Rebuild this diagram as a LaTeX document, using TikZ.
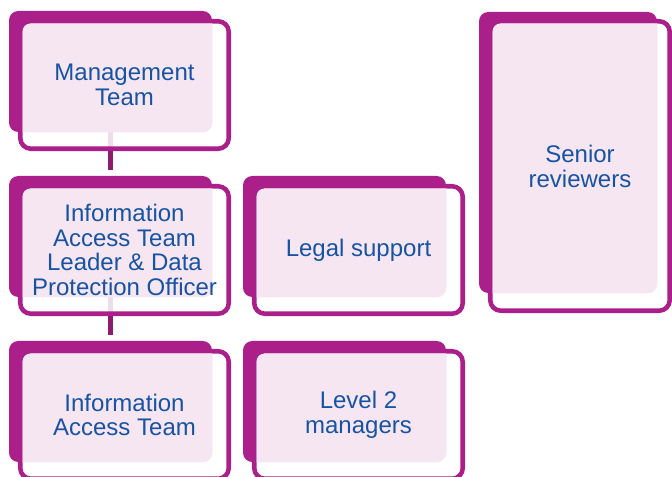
\documentclass[tikz,border=0pt]{standalone}
\usepackage{fontspec}
\setmainfont{Liberation Sans}
\usetikzlibrary{backgrounds}

\definecolor{cardmagenta}{HTML}{AB1F8B}
\definecolor{cardpink}{HTML}{F5E6F1}
\definecolor{linkmagenta}{HTML}{8E1B70}
\definecolor{textblue}{HTML}{1753A2}

\begin{document}
\begin{tikzpicture}[x=0.75pt, y=-0.75pt,
	back/.style={fill=cardmagenta, rounded corners=7pt, inner sep=0pt},
	front/.style={draw=cardmagenta, line width=3.4pt, fill=white, fill opacity=0.85, draw opacity=1, rounded corners=8pt},
	cardlabel/.style={align=center, text=textblue, inner sep=0pt, font=\fontsize{18pt}{18.6pt}\selectfont},
	link/.style={draw=linkmagenta, line width=3.75pt}]

	\useasboundingbox (0,0) rectangle (672,477);

	%management team
	\begin{scope}[shift={(9,11)}]
		\node[back, minimum width=152.25pt, minimum height=90.75pt] (mgmtback) at (101.5,60.5) {};
		\draw[front] (11.25,10.25) rectangle (219.75,137.75);
		\begin{scope}
			\clip[rounded corners=6pt] (13.5,12.5) rectangle (217.5,135.5);
			\fill[cardpink, rounded corners=7pt] (mgmtback.north west) rectangle (mgmtback.south east);
		\end{scope}
		\node[cardlabel] (mgmt) at (115.5,74) {Management\\Team};
	\end{scope}

	%team leader
	\begin{scope}[shift={(9,176)}]
		\node[back, minimum width=152.25pt, minimum height=90.75pt] (leaderback) at (101.5,60.5) {};
		\draw[front] (11.25,10.25) rectangle (219.75,137.75);
		\begin{scope}
			\clip[rounded corners=6pt] (13.5,12.5) rectangle (217.5,135.5);
			\fill[cardpink, rounded corners=7pt] (leaderback.north west) rectangle (leaderback.south east);
		\end{scope}
		\node[cardlabel] (leader) at (115.5,74) {Information\\Access Team\\Leader \& Data\\Protection Officer};
	\end{scope}

	%access team
	\begin{scope}[shift={(9,341)}]
		\node[back, minimum width=152.25pt, minimum height=90.75pt] (teamback) at (101.5,60.5) {};
		\draw[front] (11.25,10.25) rectangle (219.75,137.75);
		\begin{scope}
			\clip[rounded corners=6pt] (13.5,12.5) rectangle (217.5,135.5);
			\fill[cardpink, rounded corners=7pt] (teamback.north west) rectangle (teamback.south east);
		\end{scope}
		\node[cardlabel] (team) at (115.5,74) {Information\\Access Team};
	\end{scope}

	%legal support
	\begin{scope}[shift={(243,176)}]
		\node[back, minimum width=152.25pt, minimum height=90.75pt] (legalback) at (101.5,60.5) {};
		\draw[front] (11.25,10.25) rectangle (219.75,137.75);
		\begin{scope}
			\clip[rounded corners=6pt] (13.5,12.5) rectangle (217.5,135.5);
			\fill[cardpink, rounded corners=7pt] (legalback.north west) rectangle (legalback.south east);
		\end{scope}
		\node[cardlabel] (legal) at (115.5,74) {Legal support};
	\end{scope}

	%level 2 managers
	\begin{scope}[shift={(243,341)}]
		\node[back, minimum width=152.25pt, minimum height=90.75pt] (levelback) at (101.5,60.5) {};
		\draw[front] (11.25,10.25) rectangle (219.75,137.75);
		\begin{scope}
			\clip[rounded corners=6pt] (13.5,12.5) rectangle (217.5,135.5);
			\fill[cardpink, rounded corners=7pt] (levelback.north west) rectangle (levelback.south east);
		\end{scope}
		\node[cardlabel] (level) at (115.5,74) {Level 2\\managers};
	\end{scope}

	%senior reviewers
	\begin{scope}[shift={(479,12)}]
		\node[back, minimum width=133.5pt, minimum height=210.75pt] (seniorback) at (89,140.5) {};
		\draw[front] (11.25,9.25) rectangle (190.75,298.75);
		\begin{scope}
			\clip[rounded corners=6pt] (13.5,11.5) rectangle (188.5,296.5);
			\fill[cardpink, rounded corners=7pt] (seniorback.north west) rectangle (seniorback.south east);
		\end{scope}
		\node[cardlabel] (senior) at (101,154.5) {Senior\\reviewers};
	\end{scope}

	%links
	\begin{scope}[on background layer]
		\draw[link, shorten >=4pt] (mgmtback.south) -- (leaderback.north);
		\draw[link, shorten >=4.5pt] (leaderback.south) -- (teamback.north);
	\end{scope}

\end{tikzpicture}
\end{document}
